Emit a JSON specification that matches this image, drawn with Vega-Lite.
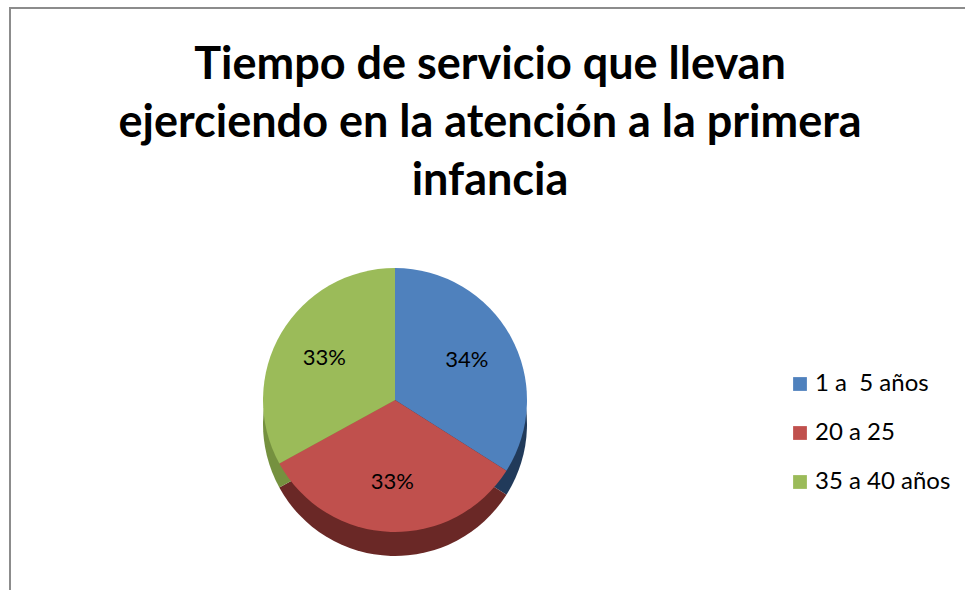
{
  "$schema": "https://vega.github.io/schema/vega-lite/v6.json",
  "autosize": "none",
  "width": 960,
  "height": 585,
  "padding": {"left": 10, "top": 8, "right": 0, "bottom": 0},
  "background": "white",
  "config": {
    "view": {"stroke": "#8c8c8c", "strokeWidth": 2},
    "font": "Lato"
  },
  "title": {
    "text": ["Tiempo de servicio que llevan", "ejerciendo en la atención a la primera", "infancia"],
    "font": "Lato",
    "fontSize": 45,
    "fontWeight": "bold",
    "color": "#000000",
    "anchor": "middle",
    "frame": "group",
    "lineHeight": 58,
    "offset": -196
  },
  "data": {
    "values": [
      {"categoria": "1 a  5 años", "valor": 34, "etiqueta": "34%"},
      {"categoria": "20 a 25", "valor": 33, "etiqueta": "33%"},
      {"categoria": "35 a 40 años", "valor": 33, "etiqueta": "33%"}
    ]
  },
  "encoding": {
    "theta": {"field": "valor", "type": "quantitative", "stack": true},
    "order": {"field": "categoria", "type": "ordinal", "sort": "ascending"},
    "x": {"value": 385},
    "y": {"value": 392}
  },
  "layer": [
    {
      "mark": {"type": "arc", "outerRadius": 132},
      "encoding": {
        "y": {"value": 416},
        "color": {
          "field": "categoria",
          "type": "nominal",
          "scale": {"domain": ["1 a  5 años", "20 a 25", "35 a 40 años"], "range": ["#213a5a", "#6a2826", "#75913f"]},
          "legend": null
        }
      }
    },
    {
      "mark": {"type": "arc", "outerRadius": 132},
      "encoding": {
        "color": {
          "field": "categoria",
          "type": "nominal",
          "scale": {"domain": ["1 a  5 años", "20 a 25", "35 a 40 años"], "range": ["#4F81BD", "#C0504D", "#9BBB59"]},
          "legend": {
            "title": null,
            "orient": "none",
            "legendX": 778,
            "legendY": 364,
            "symbolType": "square",
            "symbolSize": 190,
            "symbolStrokeWidth": 0,
            "labelFont": "Lato",
            "labelFontSize": 24,
            "labelColor": "#000000",
            "rowPadding": 25,
            "labelOffset": 3,
            "labelExpr": "replace(datum.label, '  ', ' \u00a0')"
          }
        }
      }
    },
    {
      "mark": {"type": "text", "radius": 82, "fontSize": 22, "font": "Lato", "color": "#000000"},
      "encoding": {
        "text": {"field": "etiqueta", "type": "nominal"},
        "detail": {"field": "categoria", "type": "nominal"}
      }
    }
  ],
  "resolve": {"scale": {"color": "independent"}}
}
